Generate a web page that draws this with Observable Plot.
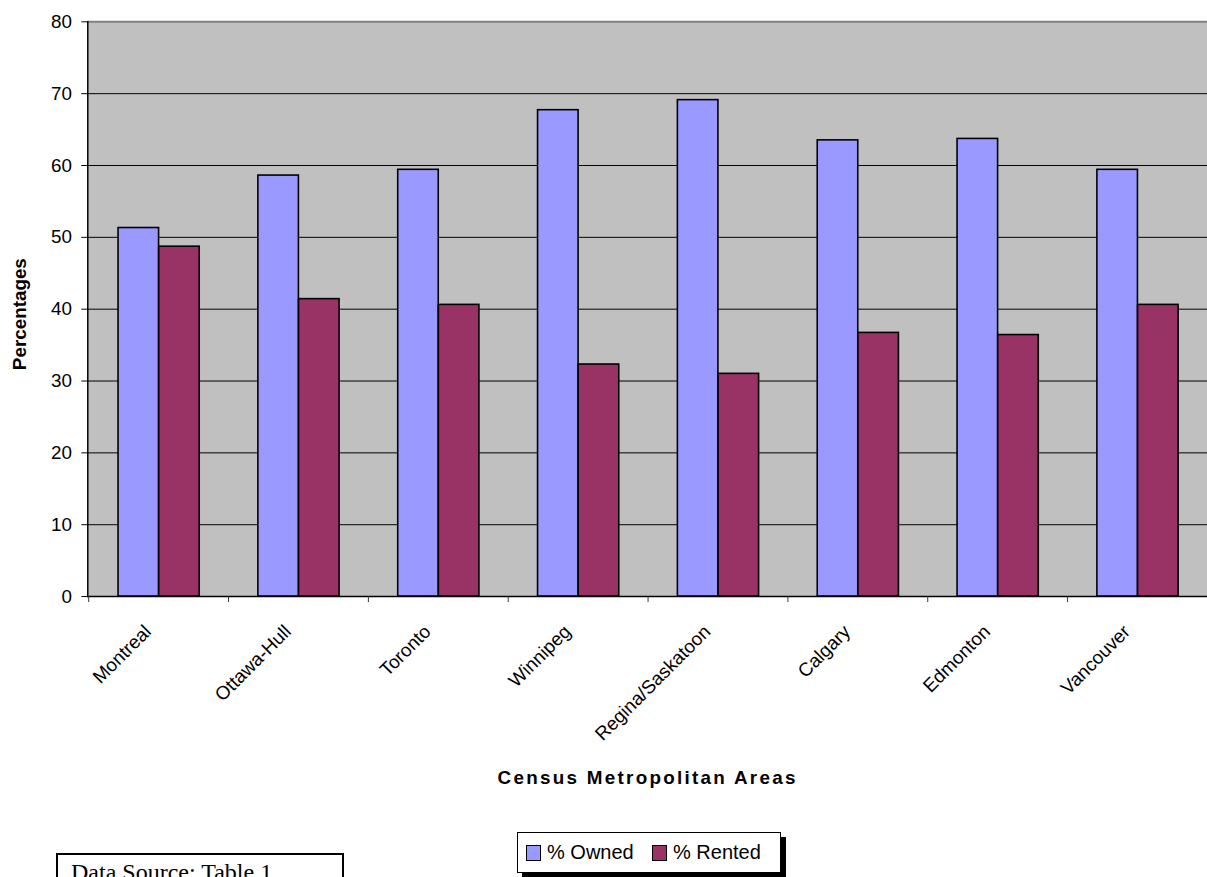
<!DOCTYPE html>
<html>
<head>
<meta charset="utf-8">
<script src="https://cdn.jsdelivr.net/npm/d3@7"></script>
<script src="https://cdn.jsdelivr.net/npm/@observablehq/plot@0.6"></script>
<style>
  html, body { margin: 0; padding: 0; background: #fff; overflow: hidden; }
  #wrap { position: relative; width: 1207px; height: 877px; overflow: hidden;
          font-family: "Liberation Sans", Arial, sans-serif; }
  #chart { position: absolute; left: 0; top: 0; }
  .legend { position: absolute; left: 517px; top: 832px; width: 264px; height: 41px;
            box-sizing: border-box; border: 1px solid #000; background: #fff;
            box-shadow: 5px 5px 0 #000; font-size: 20px; color: #000; }
  .legend .item { position: absolute; top: 0; height: 39px; display: flex; align-items: center; }
  .legend .sw { width: 13px; height: 14px; border: 1px solid #000; margin-right: 6px; }
  .source { position: absolute; left: 56px; top: 853px; width: 288px; height: 60px;
            box-sizing: border-box; border: 2px solid #000; background: #fff;
            font-family: "Liberation Serif", "Times New Roman", serif; font-size: 24px;
            padding: 4px 0 0 13px; color: #000; white-space: nowrap; }
</style>
</head>
<body>
<div id="wrap">
  <div id="chart"></div>
  <div class="legend" id="legend"></div>
  <div class="source">Data Source: Table 1</div>
</div>
<script>
// Tenure of households by Census Metropolitan Area (percent)
const cities = ["Montreal", "Ottawa-Hull", "Toronto", "Winnipeg", "Regina/Saskatoon", "Calgary", "Edmonton", "Vancouver"];
const owned  = [51.3, 58.6, 59.4, 67.7, 69.1, 63.5, 63.7, 59.4];
const rented = [48.7, 41.4, 40.6, 32.3, 31.0, 36.7, 36.4, 40.6];
const seriesNames = ["% Owned", "% Rented"];
const seriesColors = ["#9999ff", "#993366"];
const yTicks = [0, 10, 20, 30, 40, 50, 60, 70, 80];

const rows = cities.map((city, i) => ({city, owned: owned[i], rented: rented[i]}));

const W = 1217, marginLeft = 88;
const step = (W - marginLeft) / cities.length;

const chart = Plot.plot({
  width: W,
  height: 877,
  marginLeft,
  marginRight: 0,
  marginTop: 21.5,
  marginBottom: 276,
  x: {domain: cities, padding: 0},
  y: {domain: [0, 80]},
  style: {fontFamily: "'Liberation Sans', Arial, sans-serif", fontSize: "19px", color: "#000", background: "transparent", overflow: "visible"},
  marks: [
    // plot area
    Plot.frame({fill: "#c0c0c0", stroke: null}),
    Plot.ruleY(yTicks.filter(v => v > 0 && v < 80), {stroke: "#000", strokeWidth: 1}),
    Plot.ruleY([80], {stroke: "#808080", strokeWidth: 2}),
    // grouped bars
    Plot.barY(rows, {x: "city", y: "owned", fill: seriesColors[0], stroke: "#000", strokeWidth: 1.6, insetLeft: 30, insetRight: step - 71}),
    Plot.barY(rows, {x: "city", y: "rented", fill: seriesColors[1], stroke: "#000", strokeWidth: 1.6, insetLeft: 71, insetRight: step - 112}),
    // axes
    Plot.ruleY([0], {stroke: "#000", strokeWidth: 1.5}),
    Plot.frame({anchor: "left", stroke: "#000", strokeWidth: 1.5}),
    Plot.axisY({ticks: yTicks, tickSize: 6, tickPadding: 10, fontSize: 19}),
    Plot.axisX({ticks: cities, text: null, tickSize: 6, dx: -step / 2, stroke: "#333"}),
    Plot.axisX({tickSize: 0, tickPadding: 0, tickRotate: -45, textAnchor: "end", lineAnchor: "top", dx: -16, dy: 27, fontSize: 19}),
    // axis titles
    Plot.text(["Percentages"], {frameAnchor: "left", textAnchor: "middle", lineAnchor: "middle", rotate: -90, dx: -68, dy: 5, fontWeight: "bold", fontSize: 19}),
    Plot.text(["Census Metropolitan Areas"], {frameAnchor: "bottom", textAnchor: "middle", lineAnchor: "middle", dy: 183, fontWeight: "bold", fontSize: 19})
  ]
});

d3.select(chart).selectAll("text")
  .filter(function() { return this.textContent === "Census Metropolitan Areas"; })
  .attr("letter-spacing", "2.3px");

document.getElementById("chart").append(chart);

// legend
const legend = document.getElementById("legend");
const lefts = [8, 134];
seriesNames.forEach((name, i) => {
  const item = document.createElement("div");
  item.className = "item";
  item.style.left = lefts[i] + "px";
  const sw = document.createElement("div");
  sw.className = "sw";
  sw.style.background = seriesColors[i];
  const label = document.createElement("span");
  label.textContent = name;
  item.append(sw, label);
  legend.append(item);
});
</script>
</body>
</html>
